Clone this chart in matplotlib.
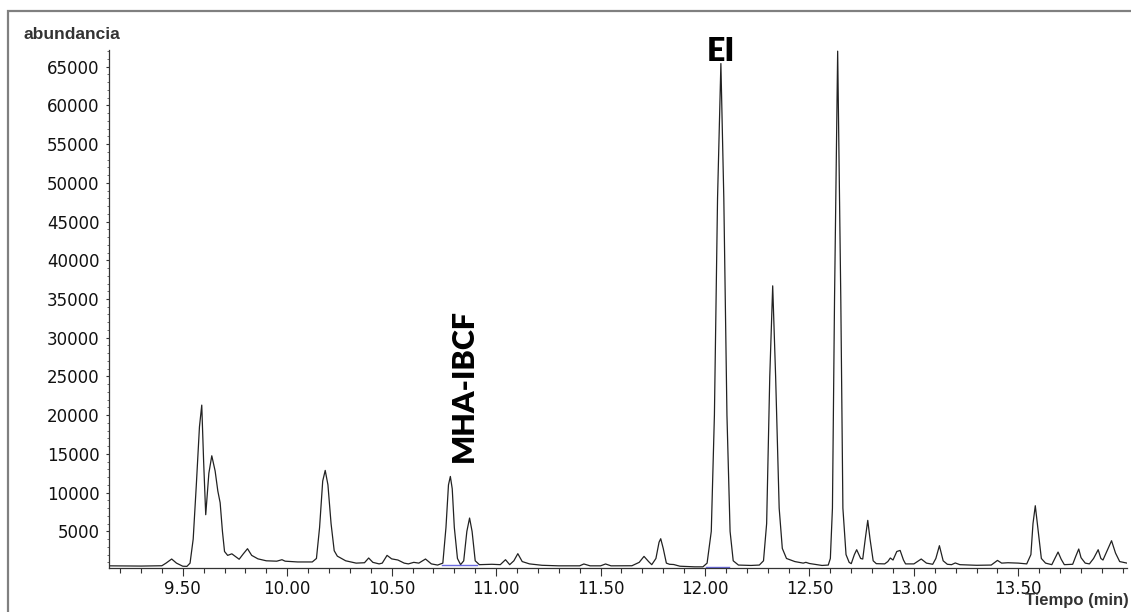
import matplotlib
matplotlib.use("Agg")
import matplotlib.pyplot as plt
from matplotlib.ticker import MultipleLocator, FixedLocator
from matplotlib.patches import Rectangle

# Chromatogram trace: retention time (min) and abundance
time_min = [
    9.147, 9.30, 9.40, 9.42, 9.447, 9.47, 9.50, 9.52, 9.535, 9.55,
    9.565, 9.58, 9.591, 9.60, 9.61, 9.625, 9.639, 9.655, 9.668, 9.679,
    9.69, 9.70, 9.715, 9.735, 9.75, 9.77, 9.79, 9.81, 9.83, 9.86,
    9.90, 9.95, 9.975, 9.99, 10.05, 10.12, 10.14, 10.155, 10.17, 10.182,
    10.195, 10.21, 10.225, 10.24, 10.28, 10.33, 10.37, 10.39, 10.41, 10.44,
    10.455, 10.478, 10.50, 10.53, 10.56, 10.58, 10.606, 10.63, 10.662, 10.69,
    10.72, 10.745, 10.76, 10.772, 10.781, 10.79, 10.80, 10.815, 10.83, 10.845,
    10.86, 10.873, 10.885, 10.90, 10.92, 10.98, 11.02, 11.045, 11.065, 11.085,
    11.104, 11.125, 11.16, 11.22, 11.30, 11.40, 11.42, 11.45, 11.50, 11.524,
    11.55, 11.65, 11.685, 11.708, 11.73, 11.745, 11.765, 11.78, 11.788, 11.80,
    11.815, 11.83, 11.85, 11.88, 11.95, 11.99, 12.01, 12.03, 12.045, 12.06,
    12.076, 12.09, 12.105, 12.12, 12.135, 12.16, 12.22, 12.26, 12.28, 12.295,
    12.31, 12.324, 12.338, 12.355, 12.37, 12.39, 12.43, 12.47, 12.483, 12.50,
    12.56, 12.59, 12.60, 12.61, 12.62, 12.635, 12.65, 12.66, 12.675, 12.69,
    12.70, 12.715, 12.726, 12.745, 12.755, 12.767, 12.779, 12.79, 12.805, 12.82,
    12.86, 12.875, 12.887, 12.90, 12.918, 12.934, 12.95, 12.96, 13.00, 13.035,
    13.06, 13.09, 13.105, 13.122, 13.14, 13.16, 13.18, 13.198, 13.22, 13.30,
    13.37, 13.40, 13.42, 13.45, 13.50, 13.54, 13.56, 13.57, 13.581, 13.595,
    13.61, 13.63, 13.66, 13.675, 13.69, 13.705, 13.72, 13.76, 13.775, 13.789,
    13.80, 13.82, 13.84, 13.86, 13.882, 13.895, 13.905, 13.92, 13.946, 13.965,
    13.985, 14.02,
]
abundance = [
    550, 520, 560, 900, 1430, 900, 500, 480, 900, 4000,
    11000, 18500, 21300, 14000, 7150, 12500, 14760, 12800, 10200, 8700,
    5000, 2400, 1900, 2100, 1800, 1400, 2100, 2760, 1900, 1450,
    1200, 1150, 1340, 1150, 1050, 1050, 1500, 5500, 11500, 12870,
    11000, 6000, 2500, 1800, 1200, 900, 950, 1560, 1000, 800,
    900, 1900, 1450, 1300, 900, 800, 1000, 900, 1430, 800,
    650, 900, 5500, 11000, 12090, 10500, 5500, 1500, 700, 1200,
    5000, 6720, 5000, 1200, 700, 750, 700, 1340, 700, 1200,
    2120, 1100, 800, 620, 550, 550, 790, 550, 550, 790,
    550, 560, 1000, 1770, 1100, 700, 1500, 3600, 4050, 2800,
    900, 750, 720, 500, 420, 420, 900, 5000, 20000, 48000,
    65400, 48000, 20000, 5000, 1200, 650, 600, 650, 1200, 6000,
    25000, 36700, 25000, 8000, 2800, 1500, 1100, 900, 1000, 850,
    600, 650, 1500, 8000, 35000, 67000, 35000, 8000, 2000, 1000,
    830, 2000, 2630, 1500, 1430, 4000, 6420, 4000, 1200, 830,
    800, 1100, 1560, 1300, 2400, 2540, 1300, 800, 800, 1430,
    900, 750, 1500, 3150, 1200, 750, 700, 920, 700, 620,
    650, 1250, 900, 950, 900, 800, 2000, 6000, 8310, 5000,
    1500, 900, 700, 1500, 2330, 1400, 700, 750, 1800, 2720,
    1600, 900, 800, 1500, 2630, 1500, 1300, 2200, 3790, 2200,
    1100, 900,
]

# Integration baselines drawn under the labelled peaks
baseline_start = [10.741, 10.826, 12.004]
baseline_end = [10.823, 10.909, 12.115]
baseline_level = [600, 600, 430]

x_ticks = [9.50, 10.00, 10.50, 11.00, 11.50, 12.00, 12.50, 13.00, 13.50]
x_tick_labels = ["9.50", "10.00", "10.50", "11.00", "11.50", "12.00", "12.50", "13.00", "13.50"]
y_ticks = [5000, 10000, 15000, 20000, 25000, 30000, 35000, 40000, 45000,
           50000, 55000, 60000, 65000]

peak_labels = ["MHA-IBCF", "EI"]

W, H = 1131, 612
fig = plt.figure(figsize=(W / 100, H / 100), dpi=100)
fig.patch.set_facecolor("white")

# Outer frame (right and bottom edges fall outside the canvas)
fig.patches.append(Rectangle((8 / W, -0.05), 1.1, 1 - 11 / H + 0.05,
                             transform=fig.transFigure, fill=False,
                             edgecolor="#808080", linewidth=1.6))

ax = fig.add_axes([109 / W, 1 - 568 / H, (1127 - 109) / W, (568 - 50) / H])
ax.plot(time_min, abundance, color="#222222", linewidth=0.9)
for x0, x1, lvl in zip(baseline_start, baseline_end, baseline_level):
    ax.plot([x0, x1], [lvl, lvl], color="#6a6ae0", linewidth=1.0)

ax.set_xlim(9.147, 14.02)
ax.set_ylim(270, 67150)

for side in ("top", "right"):
    ax.spines[side].set_visible(False)
for side in ("left", "bottom"):
    ax.spines[side].set_color("#333333")
    ax.spines[side].set_linewidth(0.9)

ax.xaxis.set_major_locator(FixedLocator(x_ticks))
ax.set_xticklabels(x_tick_labels)
ax.xaxis.set_minor_locator(MultipleLocator(0.1))
ax.yaxis.set_major_locator(FixedLocator(y_ticks))
ax.yaxis.set_minor_locator(MultipleLocator(1000))

# Tick lengths and pads are in points (1 px = 0.72 pt at 100 dpi)
ax.tick_params(axis="x", which="major", length=5.8, width=0.8, color="#333333",
               pad=2.8, labelsize=12, direction="out")
ax.tick_params(axis="x", which="minor", length=3.6, width=0.8, color="#333333",
               direction="out")
ax.tick_params(axis="y", which="major", length=2.4, width=0.8, color="#333333",
               pad=4.3, labelsize=12, direction="out")
ax.tick_params(axis="y", which="minor", length=1.6, width=0.6, color="#555555",
               direction="out")
for lbl in ax.get_xticklabels() + ax.get_yticklabels():
    lbl.set_fontfamily("DejaVu Sans")
    lbl.set_color("#111111")

# Axis titles
fig.text(23 / W, 1 - 39 / H, "abundancia", family="Liberation Sans",
         weight="bold", size=12.5, color="#333333", ha="left", va="baseline")
fig.text(1129 / W, 1 - 605 / H, "Tiempo (min)", family="Liberation Sans",
         weight="bold", size=12, color="#333333", ha="right", va="baseline")

# Peak annotations
ax.text(10.887, 13990, peak_labels[0], family="Lato", weight="heavy", size=22,
        rotation=90, rotation_mode="anchor", ha="left", va="baseline",
        color="black")
ax.text(12.074, 65770, peak_labels[1], family="Lato", weight="heavy", size=23,
        ha="center", va="baseline", color="black", clip_on=False)

fig.savefig("out.png", dpi=100, facecolor="white")
